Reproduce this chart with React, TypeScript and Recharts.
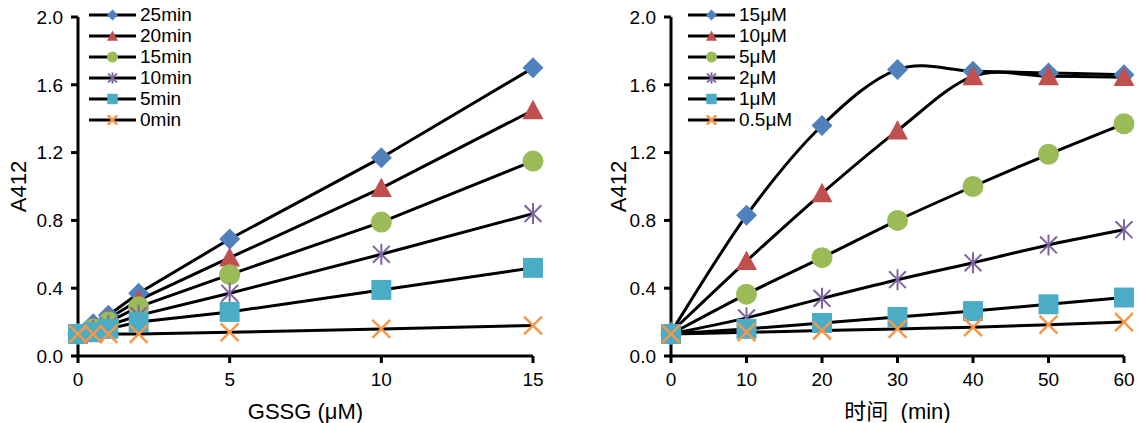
import { LineChart, Line, XAxis, YAxis } from 'recharts';

// GSSG concentration (µM) for the left panel
const gssgX = [0, 0.5, 1, 2, 5, 10, 15];
const min25 = [0.13, 0.19, 0.24, 0.37, 0.69, 1.17, 1.7];
const min20 = [0.13, 0.17, 0.22, 0.33, 0.58, 0.99, 1.45];
const min15 = [0.13, 0.16, 0.2, 0.29, 0.48, 0.79, 1.15];
const min10 = [0.13, 0.15, 0.18, 0.24, 0.37, 0.6, 0.84];
const min5 = [0.13, 0.14, 0.16, 0.2, 0.26, 0.39, 0.52];
const min0 = [0.13, 0.13, 0.13, 0.13, 0.14, 0.16, 0.18];

// time (min) for the right panel
const timeX = [0, 10, 20, 30, 40, 50, 60];
const uM15 = [0.14, 0.83, 1.36, 1.69, 1.68, 1.67, 1.66];
const uM10 = [0.14, 0.56, 0.96, 1.33, 1.65, 1.65, 1.645];
const uM5 = [0.13, 0.365, 0.58, 0.8, 1.0, 1.19, 1.37];
const uM2 = [0.13, 0.225, 0.34, 0.45, 0.55, 0.655, 0.745];
const uM1 = [0.13, 0.16, 0.195, 0.23, 0.265, 0.305, 0.345];
const uM05 = [0.13, 0.14, 0.15, 0.16, 0.17, 0.185, 0.2];

const yTicks = [0, 0.4, 0.8, 1.2, 1.6, 2.0];
const gssgTicks = [0, 5, 10, 15];
const timeTicks = [0, 10, 20, 30, 40, 50, 60];

const leftNames = ['25min', '20min', '15min', '10min', '5min', '0min'];
const rightNames = ['15μM', '10μM', '5μM', '2μM', '1μM', '0.5μM'];

type Shape = 'diamond' | 'triangle' | 'circle' | 'star' | 'square' | 'cross';
const shapes: Shape[] = ['diamond', 'triangle', 'circle', 'star', 'square', 'cross'];
const colors = ['#4F81BD', '#C0504D', '#9BBB59', '#8064A2', '#4BACC6', '#F79646'];

const FONT = 'Arial, "Liberation Sans", "Noto Sans CJK SC", sans-serif';

const leftData = gssgX.map((x, i) => ({
  x, s0: min25[i], s1: min20[i], s2: min15[i], s3: min10[i], s4: min5[i], s5: min0[i],
}));
const rightData = timeX.map((x, i) => ({
  x, s0: uM15[i], s1: uM10[i], s2: uM5[i], s3: uM2[i], s4: uM1[i], s5: uM05[i],
}));

// excel-like smoothed line (catmull-rom bezier)
const smoothCurve = (context: any) => {
  let pts: number[][] = [];
  return {
    areaStart() {},
    areaEnd() {},
    lineStart() { pts = []; },
    point(x: number, y: number) { pts.push([x, y]); },
    lineEnd() {
      if (!pts.length) return;
      context.moveTo(pts[0][0], pts[0][1]);
      for (let i = 0; i < pts.length - 1; i++) {
        const p0 = pts[i - 1] || pts[i];
        const p1 = pts[i];
        const p2 = pts[i + 1];
        const p3 = pts[i + 2] || p2;
        context.bezierCurveTo(
          p1[0] + (p2[0] - p0[0]) / 6, p1[1] + (p2[1] - p0[1]) / 6,
          p2[0] - (p3[0] - p1[0]) / 6, p2[1] - (p3[1] - p1[1]) / 6,
          p2[0], p2[1],
        );
      }
    },
  };
};

const Marker = ({ shape, cx, cy, r, color }: { shape: Shape; cx: number; cy: number; r: number; color: string }) => {
  switch (shape) {
    case 'diamond':
      return <polygon points={`${cx},${cy - r} ${cx + r},${cy} ${cx},${cy + r} ${cx - r},${cy}`} fill={color} />;
    case 'triangle':
      return <polygon points={`${cx},${cy - r} ${cx + r},${cy + r * 0.85} ${cx - r},${cy + r * 0.85}`} fill={color} />;
    case 'circle':
      return <circle cx={cx} cy={cy} r={r} fill={color} />;
    case 'square':
      return <rect x={cx - r * 0.95} y={cy - r * 0.95} width={r * 1.9} height={r * 1.9} fill={color} />;
    case 'star':
      return (
        <g stroke={color} strokeWidth={2}>
          <line x1={cx - r * 0.8} y1={cy - r * 0.8} x2={cx + r * 0.8} y2={cy + r * 0.8} />
          <line x1={cx - r * 0.8} y1={cy + r * 0.8} x2={cx + r * 0.8} y2={cy - r * 0.8} />
          <line x1={cx} y1={cy - r} x2={cx} y2={cy + r} />
        </g>
      );
    default:
      return (
        <g stroke={color} strokeWidth={2.5}>
          <line x1={cx - r * 0.85} y1={cy - r * 0.85} x2={cx + r * 0.85} y2={cy + r * 0.85} />
          <line x1={cx - r * 0.85} y1={cy + r * 0.85} x2={cx + r * 0.85} y2={cy - r * 0.85} />
        </g>
      );
  }
};

const LegendBox = ({ names, left }: { names: string[]; left: number }) => (
  <div style={{ position: 'absolute', left, top: 4, fontFamily: FONT, fontSize: 19, lineHeight: '21px', color: '#000' }}>
    {names.map((n, i) => (
      <div key={n} style={{ display: 'flex', alignItems: 'center', height: 21 }}>
        <svg width={52} height={21}>
          <line x1={1} y1={11} x2={48} y2={11} stroke="#000" strokeWidth={3} />
          <Marker shape={shapes[i]} cx={24.5} cy={11} r={5.5} color={colors[i]} />
        </svg>
        <span>{n}</span>
      </div>
    ))}
  </div>
);

const tickStyle = { fill: '#000', fontSize: 19, fontFamily: FONT };

const Panel = ({ data, ticks, domain, xLabel, yAxisWidth, marginRight, labelOffset, smooth }: any) => (
  <LineChart width={571} height={423} data={data} margin={{ top: 17, right: marginRight, left: 0, bottom: 0 }}>
    <XAxis
      dataKey="x"
      type="number"
      domain={domain}
      ticks={ticks}
      height={67}
      axisLine={{ stroke: '#000', strokeWidth: 3 }}
      tickLine={{ stroke: '#000', strokeWidth: 3 }}
      tickSize={7}
      tickMargin={10}
      tick={tickStyle}
      interval={0}
      label={{ value: xLabel, position: 'insideBottom', offset: 4, fill: '#000', fontSize: 22, fontFamily: FONT }}
    />
    <YAxis
      type="number"
      domain={[0, 2]}
      ticks={yTicks}
      width={yAxisWidth}
      axisLine={{ stroke: '#000', strokeWidth: 3 }}
      tickLine={{ stroke: '#000', strokeWidth: 3 }}
      tickSize={7}
      tickMargin={8}
      tick={tickStyle}
      interval={0}
      tickFormatter={(v: number) => v.toFixed(1)}
      label={{ value: 'A412', angle: -90, position: 'insideLeft', offset: labelOffset, fill: '#000', fontSize: 22, fontFamily: FONT, style: { textAnchor: 'middle' } }}
    />
    {shapes.map((s, i) => (
      <Line
        key={s}
        dataKey={`s${i}`}
        type={smooth ? smoothCurve : 'linear'}
        stroke="#000"
        strokeWidth={3}
        isAnimationActive={false}
        activeDot={false}
        dot={(p: any) => (
          <Marker key={`${s}-${p.index}`} shape={s} cx={p.cx} cy={p.cy} r={10.5} color={colors[i]} />
        )}
      />
    ))}
  </LineChart>
);

export default function App() {
  return (
    <div style={{ position: 'absolute', left: 0, top: 0, width: 1142, height: 423, background: '#fff' }}>
      <div style={{ position: 'absolute', left: 0, top: 0 }}>
        <Panel data={leftData} ticks={gssgTicks} domain={[0, 15]} xLabel="GSSG (μM)" yAxisWidth={78} marginRight={38} labelOffset={18} smooth={false} />
      </div>
      <div style={{ position: 'absolute', left: 571, top: 0 }}>
        <Panel data={rightData} ticks={timeTicks} domain={[0, 60]} xLabel={'时间\u00a0\u00a0(min)'} yAxisWidth={100} marginRight={18} labelOffset={47} smooth />
      </div>
      <LegendBox names={leftNames} left={88} />
      <LegendBox names={rightNames} left={687} />
    </div>
  );
}
